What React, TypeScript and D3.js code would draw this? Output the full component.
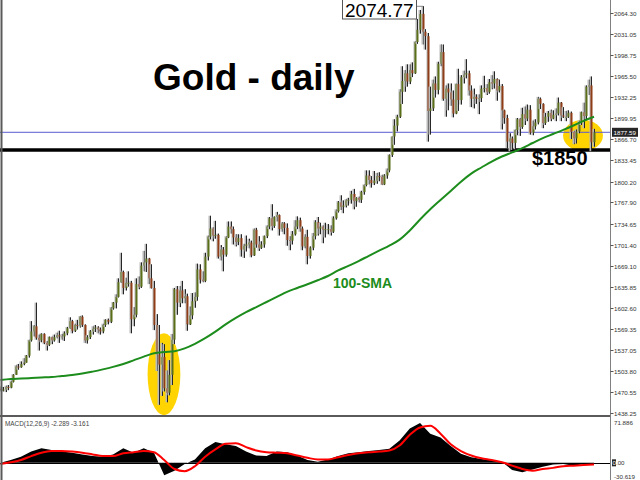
import * as React from 'react'
import { useEffect, useRef } from 'react'
import * as d3 from 'd3'

// daily gold candles, 17 Dec 2019 .. 10 Nov 2020: open, high, low, close
type Candle = [number, number, number, number]

const candles: Candle[] = [
    // Dec
    [1476, 1480, 1472, 1475], [1475, 1479, 1472, 1475], [1475, 1481, 1471, 1479], [1479, 1482, 1474, 1478],
    [1478, 1489, 1477, 1487], [1487, 1499, 1486, 1498], [1498, 1513, 1498, 1511], [1511, 1515, 1506, 1510],
    [1510, 1519, 1509, 1515], [1515, 1524, 1513, 1517],
    // Jan
    [1517, 1529, 1517, 1528], [1528, 1553, 1525, 1552], [1552, 1582, 1550, 1566], [1566, 1576, 1558, 1574],
    [1574, 1611, 1553, 1556], [1556, 1561, 1536, 1552], [1552, 1563, 1549, 1562], [1562, 1563, 1546, 1548],
    [1548, 1551, 1536, 1545], [1545, 1558, 1543, 1557], [1557, 1558, 1546, 1552], [1552, 1561, 1550, 1557],
    [1557, 1564, 1555, 1560], [1560, 1567, 1548, 1558], [1558, 1562, 1553, 1558], [1558, 1566, 1551, 1563],
    [1563, 1573, 1560, 1571], [1571, 1588, 1570, 1582], [1582, 1584, 1563, 1567], [1567, 1578, 1565, 1576],
    [1576, 1584, 1569, 1575], [1575, 1590, 1572, 1589],
    // Feb
    [1589, 1591, 1573, 1576], [1576, 1577, 1548, 1552], [1552, 1560, 1547, 1557], [1557, 1568, 1554, 1566],
    [1566, 1574, 1561, 1570], [1570, 1576, 1565, 1572], [1572, 1574, 1563, 1569], [1569, 1572, 1561, 1566],
    [1566, 1578, 1563, 1576], [1576, 1585, 1573, 1584], [1584, 1586, 1577, 1581], [1581, 1604, 1579, 1602],
    [1602, 1612, 1600, 1611], [1611, 1624, 1602, 1620], [1620, 1649, 1619, 1643], [1643, 1689, 1642, 1659],
    [1659, 1661, 1624, 1634], [1634, 1650, 1630, 1642], [1642, 1660, 1636, 1642], [1642, 1645, 1563, 1585],
    // Mar
    [1585, 1604, 1574, 1592], [1592, 1649, 1588, 1640], [1640, 1652, 1632, 1636], [1636, 1674, 1634, 1669],
    [1669, 1692, 1660, 1674], [1674, 1703, 1659, 1680], [1680, 1681, 1640, 1649], [1649, 1671, 1633, 1634],
    [1634, 1645, 1568, 1576], [1576, 1593, 1504, 1530], [1530, 1576, 1451, 1514], [1514, 1548, 1465, 1526],
    [1526, 1546, 1472, 1477], [1477, 1505, 1455, 1470], [1470, 1521, 1466, 1498], [1498, 1562, 1482, 1553],
    [1553, 1634, 1546, 1632], [1632, 1637, 1592, 1611], [1611, 1637, 1604, 1630], [1630, 1645, 1610, 1618],
    [1618, 1632, 1610, 1621], [1621, 1625, 1567, 1577],
    // Apr
    [1577, 1605, 1576, 1591], [1591, 1626, 1585, 1613], [1613, 1627, 1603, 1620], [1620, 1672, 1614, 1663],
    [1663, 1671, 1641, 1647], [1647, 1660, 1643, 1645], [1645, 1689, 1643, 1683], [1683, 1716, 1677, 1714],
    [1714, 1747, 1710, 1727], [1727, 1729, 1707, 1716], [1716, 1739, 1711, 1717], [1717, 1719, 1680, 1683],
    [1683, 1701, 1677, 1694], [1694, 1698, 1660, 1686], [1686, 1715, 1683, 1713], [1713, 1738, 1712, 1730],
    [1730, 1738, 1719, 1726], [1726, 1730, 1702, 1713], [1713, 1718, 1699, 1706], [1706, 1718, 1701, 1712],
    [1712, 1718, 1683, 1694],
    // May
    [1694, 1703, 1681, 1700], [1700, 1716, 1691, 1702], [1702, 1711, 1696, 1705], [1705, 1708, 1682, 1685],
    [1685, 1727, 1684, 1725], [1725, 1728, 1697, 1702], [1702, 1715, 1692, 1697], [1697, 1707, 1695, 1702],
    [1702, 1716, 1697, 1715], [1715, 1732, 1712, 1730], [1730, 1745, 1726, 1743], [1743, 1765, 1724, 1731],
    [1731, 1746, 1728, 1745], [1745, 1753, 1738, 1748], [1748, 1749, 1716, 1726], [1726, 1737, 1722, 1735],
    [1735, 1737, 1718, 1728], [1728, 1735, 1700, 1709], [1709, 1715, 1693, 1708], [1708, 1723, 1702, 1718],
    [1718, 1740, 1716, 1730],
    // Jun
    [1730, 1746, 1726, 1740], [1740, 1744, 1722, 1727], [1727, 1730, 1693, 1699], [1699, 1718, 1696, 1714],
    [1714, 1725, 1671, 1684], [1684, 1699, 1680, 1697], [1697, 1720, 1693, 1715], [1715, 1740, 1710, 1737],
    [1737, 1745, 1716, 1727], [1727, 1736, 1718, 1730], [1730, 1732, 1704, 1725], [1725, 1736, 1713, 1726],
    [1726, 1734, 1718, 1726], [1726, 1732, 1716, 1722], [1722, 1746, 1720, 1743], [1743, 1757, 1741, 1754],
    [1754, 1770, 1752, 1768], [1768, 1779, 1756, 1761], [1761, 1771, 1751, 1763], [1763, 1773, 1760, 1771],
    [1771, 1775, 1763, 1772], [1772, 1786, 1766, 1781],
    // Jul
    [1781, 1789, 1757, 1770], [1770, 1776, 1761, 1775], [1775, 1777, 1768, 1772], [1772, 1786, 1767, 1784],
    [1784, 1796, 1780, 1795], [1795, 1818, 1793, 1810], [1810, 1818, 1796, 1803], [1803, 1809, 1791, 1798],
    [1798, 1817, 1795, 1802], [1802, 1814, 1797, 1809], [1809, 1815, 1801, 1808], [1808, 1811, 1795, 1796],
    [1796, 1812, 1795, 1810], [1810, 1821, 1805, 1818], [1818, 1843, 1815, 1842], [1842, 1871, 1839, 1871],
    [1871, 1898, 1858, 1888], [1888, 1905, 1879, 1902], [1902, 1945, 1900, 1941], [1941, 1981, 1922, 1958],
    [1958, 1975, 1941, 1970], [1970, 1984, 1949, 1957], [1957, 1984, 1953, 1975],
    // Aug
    [1975, 1987, 1964, 1970], [1970, 2020, 1969, 2019], [2019, 2055, 2016, 2038], [2038, 2069, 2032, 2063],
    [2063, 2075, 2015, 2035], [2035, 2039, 2007, 2028], [2028, 2033, 1863, 1911], [1911, 1949, 1874, 1915],
    [1915, 1960, 1911, 1954], [1954, 1965, 1932, 1944], [1944, 1988, 1937, 1985], [1985, 2015, 1981, 2003],
    [2003, 2015, 1927, 1930], [1930, 1951, 1902, 1946], [1946, 1954, 1912, 1940], [1940, 1954, 1919, 1929],
    [1929, 1943, 1901, 1907], [1907, 1954, 1906, 1953], [1953, 1977, 1911, 1928], [1928, 1967, 1921, 1964],
    [1964, 1974, 1954, 1968],
    // Sep
    [1968, 1992, 1962, 1970], [1970, 1974, 1935, 1943], [1943, 1951, 1917, 1930], [1930, 1946, 1915, 1933],
    [1933, 1937, 1922, 1930], [1930, 1937, 1906, 1931], [1931, 1951, 1925, 1946], [1946, 1966, 1940, 1947],
    [1947, 1953, 1936, 1941], [1941, 1961, 1938, 1956], [1956, 1967, 1945, 1954], [1954, 1973, 1946, 1961],
    [1961, 1962, 1927, 1943], [1943, 1960, 1940, 1950], [1950, 1953, 1882, 1912], [1912, 1913, 1891, 1900],
    [1900, 1905, 1853, 1863], [1863, 1876, 1848, 1868], [1868, 1871, 1850, 1861], [1861, 1882, 1851, 1881],
    [1881, 1900, 1873, 1898], [1898, 1900, 1872, 1886],
    // Oct
    [1886, 1916, 1883, 1906], [1906, 1918, 1889, 1899], [1899, 1921, 1895, 1913], [1913, 1920, 1874, 1877],
    [1877, 1896, 1873, 1887], [1887, 1898, 1882, 1893], [1893, 1933, 1890, 1930], [1930, 1932, 1914, 1922],
    [1922, 1923, 1884, 1892], [1892, 1908, 1889, 1902], [1902, 1911, 1894, 1908], [1908, 1913, 1895, 1899],
    [1899, 1912, 1898, 1905], [1905, 1915, 1895, 1907], [1907, 1932, 1904, 1924], [1924, 1925, 1895, 1904],
    [1904, 1917, 1900, 1902], [1902, 1911, 1895, 1902], [1902, 1912, 1900, 1908], [1908, 1910, 1867, 1878],
    [1878, 1880, 1859, 1868], [1868, 1882, 1860, 1879],
    // Nov
    [1879, 1896, 1876, 1894], [1894, 1910, 1889, 1909], [1909, 1924, 1884, 1903], [1903, 1951, 1898, 1949],
    [1949, 1960, 1936, 1951], [1951, 1965, 1848, 1862], [1862, 1883, 1855, 1877.59],
]

// indicators, one reading every 4th candle
const sampleStep = 4
const sma100 = [
    1489.9, 1491.5, 1492.2, 1493.0, 1493.8, 1494.6, 1496.2, 1497.7, 1499.9, 1503.0,
    1506.5, 1510.4, 1514.9, 1520.6, 1526.4, 1531.7, 1533.7, 1535.0, 1539.4, 1546.5,
    1555.3, 1565.6, 1576.9, 1587.0, 1596.0, 1604.1, 1612.0, 1619.9, 1627.9, 1633.9,
    1639.8, 1646.1, 1652.7, 1661.4, 1668.5, 1676.1, 1684.3, 1692.3, 1700.2, 1709.6,
    1724.0, 1741.0, 1757.0, 1771.6, 1785.8, 1800.2, 1812.9, 1822.5, 1831.8, 1839.7,
    1846.1, 1852.8, 1860.8, 1868.5, 1874.9, 1881.3, 1888.2, 1895.5, 1901.9,
]
const macdMain = [
    0, 5, 11, 20, 26, 23, 20, 18, 15, 12,
    11, 15, 26, 18, 26, 18, -22, -14, -2, 6,
    26, 37, 33, 30, 20, 13, 12, 20, 19, 13,
    5, 2, 6, 12, 17, 19, 21, 23, 25, 40,
    61, 71, 52, 45, 30, 16, 10, 7, 5, 2,
    -13, -17, -12, -7, -3, -2, -5, -2, -2.289,
]
const macdSignal = [
    -2, 1, 5, 12, 18, 21, 21, 20, 18, 15,
    12, 12, 17, 19, 21, 19, 5, -11, -15, -6,
    11, 24, 34, 35, 28, 22, 19, 18, 17, 13,
    9, 6, 6, 10, 14, 17, 19, 20, 22, 31,
    50, 63, 66, 52, 33, 21, 13, 8, 5, 1,
    -5, -11, -14, -11, -9, -6, -5, -4, -3.161,
]

const priceTicks = [
    2064.30, 2031.05, 1998.75, 1965.50, 1932.25, 1899.95, 1866.70, 1833.45, 1800.20, 1767.90,
    1734.65, 1701.40, 1669.10, 1635.85, 1602.60, 1569.35, 1537.05, 1503.80, 1470.55, 1438.25,
]
const macdTop = 71.886
const macdBottom = -30.619
const lastPrice = 1877.59
const supportLevel = 1850
const peakPrice = 2074.77
const peakIndex = 165
const macdTitle = 'MACD(12,26,9) -2.289 -3.161'

// highlighted zones: candle index, price, half width (candles), half height (price)
const highlights = [
    { index: 63.9, price: 1499, halfW: 6.4, halfH: 64 },
    { index: 227.7, price: 1872.5, halfW: 7.8, halfH: 24.5 },
]

const W = 640
const H = 480
const axisX = 610.5
const font = '"Liberation Sans", Arial, sans-serif'

export default function App() {
    const ref = useRef<SVGSVGElement | null>(null)

    useEffect(() => {
        if (!ref.current)
            return
        const svg = d3.select(ref.current)
        svg.selectAll('*').remove()

        const x = d3.scaleLinear().domain([0, candles.length - 1]).range([0.5, 594])
        const y = d3.scaleLinear().domain([1438.25, 2064.30]).range([413, 13])
        const ym = d3.scaleLinear().domain([macdBottom, macdTop]).range([480, 422.5])

        svg.append('rect').attr('width', W).attr('height', H).attr('fill', '#fff')

        const defs = svg.append('defs')
        defs.append('clipPath').attr('id', 'mainClip')
            .append('rect').attr('x', 0).attr('y', 0).attr('width', axisX).attr('height', 415)
        defs.append('clipPath').attr('id', 'macdClip')
            .append('rect').attr('x', 0).attr('y', 417).attr('width', axisX).attr('height', 63)

        const main = svg.append('g').attr('clip-path', 'url(#mainClip)')

        // yellow highlight ellipses
        main.selectAll('ellipse.hl')
            .data(highlights)
            .enter().append('ellipse')
            .attr('cx', d => x(d.index))
            .attr('cy', d => y(d.price))
            .attr('rx', d => x(d.halfW) - x(0))
            .attr('ry', d => y(d.price - d.halfH) - y(d.price))
            .attr('fill', '#ffd400')

        // horizontal levels
        main.append('line')
            .attr('x1', 0).attr('x2', axisX)
            .attr('y1', y(lastPrice)).attr('y2', y(lastPrice))
            .attr('stroke', '#5a5ad2').attr('stroke-width', 1)
        main.append('line')
            .attr('x1', 0).attr('x2', axisX)
            .attr('y1', y(supportLevel)).attr('y2', y(supportLevel))
            .attr('stroke', '#000').attr('stroke-width', 3.5)

        // candles
        const cg = main.append('g')
        candles.forEach((c, i) => {
            const [o, h, l, cl] = c
            const cx = Math.round(x(i))
            const up = cl >= o
            cg.append('rect')
                .attr('x', cx - 1.5).attr('width', 2)
                .attr('y', y(h)).attr('height', Math.max(1, y(l) - y(h)))
                .attr('fill', '#b9b9b9')
            cg.append('line')
                .attr('x1', cx + 0.5).attr('x2', cx + 0.5)
                .attr('y1', y(h)).attr('y2', y(l))
                .attr('stroke', '#262626').attr('stroke-width', 1)
            const top = y(Math.max(o, cl))
            const bot = y(Math.min(o, cl))
            cg.append('rect')
                .attr('x', cx - 0.5).attr('width', 2)
                .attr('y', top).attr('height', Math.max(1, bot - top))
                .attr('fill', up ? '#5b6e18' : '#8f3d17')
        })

        // 100-SMA
        const smaLine = d3.line<number>()
            .x((d, i) => x(i * sampleStep))
            .y(d => y(d))
            .curve(d3.curveMonotoneX)
        main.append('path')
            .datum(sma100)
            .attr('fill', 'none')
            .attr('stroke', '#1c8c1c')
            .attr('stroke-width', 2)
            .attr('d', smaLine)

        // peak label
        main.append('line')
            .attr('x1', 416).attr('x2', Math.round(x(peakIndex)))
            .attr('y1', y(peakPrice)).attr('y2', y(peakPrice))
            .attr('stroke', '#888')
        main.append('rect')
            .attr('x', 342.5).attr('y', -1).attr('width', 74).attr('height', 20)
            .attr('fill', '#fff').attr('stroke', '#555')
        main.append('text')
            .attr('x', 345).attr('y', 16.5)
            .attr('font-family', font).attr('font-size', 19)
            .attr('fill', '#000')
            .text(peakPrice.toFixed(2))

        // annotations
        main.append('text')
            .attr('x', 153).attr('y', 90)
            .attr('font-family', font).attr('font-size', 37).attr('font-weight', 'bold')
            .attr('fill', '#000')
            .text('Gold - daily')
        main.append('text')
            .attr('x', 532).attr('y', 165)
            .attr('font-family', font).attr('font-size', 20).attr('font-weight', 'bold')
            .attr('fill', '#000')
            .text('$' + supportLevel)
        main.append('text')
            .attr('x', 333).attr('y', 288)
            .attr('font-family', font).attr('font-size', 14).attr('font-weight', 'bold')
            .attr('fill', '#1c8c1c')
            .text('100-SMA')

        // MACD pane
        const macd = svg.append('g').attr('clip-path', 'url(#macdClip)')
        const area = d3.area<number>()
            .x((d, i) => x(i * sampleStep))
            .y0(ym(0))
            .y1(d => ym(d))
        macd.append('path')
            .datum(macdMain)
            .attr('fill', '#000')
            .attr('d', area)
        macd.append('line')
            .attr('x1', 0).attr('x2', axisX)
            .attr('y1', Math.round(ym(0)) + 0.5).attr('y2', Math.round(ym(0)) + 0.5)
            .attr('stroke', '#000')
        const sigLine = d3.line<number>()
            .x((d, i) => x(i * sampleStep))
            .y(d => ym(d))
            .curve(d3.curveMonotoneX)
        macd.append('path')
            .datum(macdSignal)
            .attr('fill', 'none')
            .attr('stroke', '#ff0000')
            .attr('stroke-width', 2)
            .attr('d', sigLine)
        svg.append('text')
            .attr('x', 5).attr('y', 426)
            .attr('font-family', font).attr('font-size', 6.4)
            .attr('fill', '#444')
            .text(macdTitle)

        // frame
        svg.append('line')
            .attr('x1', 1.5).attr('x2', 1.5).attr('y1', 0).attr('y2', H)
            .attr('stroke', '#5a5a5a').attr('stroke-width', 2)
        svg.append('line')
            .attr('x1', 0).attr('x2', axisX).attr('y1', 416).attr('y2', 416)
            .attr('stroke', '#5a5a5a').attr('stroke-width', 2)
        svg.append('line')
            .attr('x1', axisX).attr('x2', axisX).attr('y1', 0).attr('y2', H)
            .attr('stroke', '#808080').attr('stroke-width', 1)

        // price axis
        const ax = svg.append('g')
        priceTicks.forEach(t => {
            const ty = Math.round(y(t)) + 0.5
            ax.append('line')
                .attr('x1', axisX).attr('x2', axisX + 3)
                .attr('y1', ty).attr('y2', ty)
                .attr('stroke', '#555')
            ax.append('text')
                .attr('x', 614).attr('y', ty + 2.3)
                .attr('font-family', font).attr('font-size', 6.2)
                .attr('fill', '#333')
                .text(t.toFixed(2))
        })
        const lp = y(lastPrice)
        ax.append('rect')
            .attr('x', 612).attr('y', lp - 4.5).attr('width', 26).attr('height', 9)
            .attr('fill', '#262626')
        ax.append('text')
            .attr('x', 613.5).attr('y', lp + 2.3)
            .attr('font-family', font).attr('font-size', 6.2)
            .attr('fill', '#fff')
            .text(lastPrice.toFixed(2))

        // MACD axis
        ax.append('text')
            .attr('x', 614).attr('y', ym(macdTop) + 2.5)
            .attr('font-family', font).attr('font-size', 6.2).attr('fill', '#333')
            .text(macdTop.toFixed(3))
        ax.append('text')
            .attr('x', 614).attr('y', 479)
            .attr('font-family', font).attr('font-size', 6.2).attr('fill', '#333')
            .text(macdBottom.toFixed(3))
        const z = ym(0)
        ax.append('rect')
            .attr('x', 612).attr('y', z - 3.5).attr('width', 4).attr('height', 7)
            .attr('fill', '#262626')
        const zt = ax.append('text')
            .attr('x', 612.5).attr('y', z + 2.3)
            .attr('font-family', font).attr('font-size', 6.2).attr('fill', '#333')
        zt.append('tspan').attr('fill', '#fff').text('0')
        zt.append('tspan').text('.00')
    }, [])

    return (
        <svg
            ref={ref}
            width={W}
            height={H}
            style={{ position: 'fixed', left: 0, top: 0, display: 'block' }} />
    )
}
